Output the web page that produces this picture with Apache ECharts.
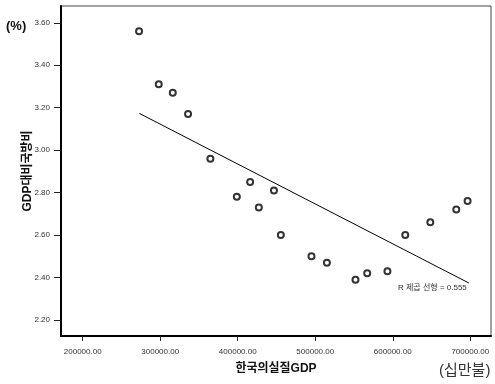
<!DOCTYPE html>
<html>
<head>
<meta charset="utf-8">
<script src="https://cdn.jsdelivr.net/npm/echarts@6/dist/echarts.min.js"></script>
<style>html,body{margin:0;padding:0;background:#fff}#c{width:495px;height:384px}</style>
</head>
<body>
<div id="c"></div>
<script>
// Data
const gdpX = [272700, 298100, 316200, 335900, 364700, 398800, 416000, 427200, 446700, 455600,
              495100, 515000, 551900, 567000, 593100, 616100, 648400, 681900, 696500];
const defenseY = [3.56, 3.31, 3.27, 3.17, 2.96, 2.78, 2.85, 2.73, 2.81, 2.60,
                  2.50, 2.47, 2.39, 2.42, 2.43, 2.60, 2.66, 2.72, 2.76];
const fitX = [273100, 698200];
const fitY = [3.173, 2.374];
const xTicks = [200000, 300000, 400000, 500000, 600000, 700000];
const yTicks = [2.20, 2.40, 2.60, 2.80, 3.00, 3.20, 3.40, 3.60];
const yTitle = 'GDP대비국방비';
const xTitle = '한국의실질GDP';
const unitY = '(%)';
const unitX = '(십만불)';
const fitLabel = 'R 제곱 선형 = 0.555';

const FONT = '"Liberation Sans", Arial, "Noto Sans CJK KR", sans-serif';
const chart = echarts.init(document.getElementById('c'), null, {renderer: 'canvas'});
chart.setOption({
  animation: false,
  backgroundColor: '#fff',
  grid: {left: 61, right: 4, top: 6, bottom: 48, show: true, borderColor: '#444', borderWidth: 1},
  xAxis: {
    type: 'value', min: 172000, max: 726700,
    name: xTitle, nameLocation: 'middle', nameGap: 27, nameMoveOverlap: false,
    nameTextStyle: {fontFamily: FONT, fontSize: 12, fontWeight: 'bold', color: '#111'},
    axisLine: {show: true, onZero: false, lineStyle: {color: '#000', width: 2}},
    axisTick: {show: true, length: 5, customValues: xTicks, lineStyle: {color: '#222'}},
    axisLabel: {customValues: xTicks, margin: 12, fontFamily: FONT, fontSize: 8, color: '#333',
      formatter: v => Number(v).toFixed(2)},
    splitLine: {show: false}
  },
  yAxis: {
    type: 'value', min: 2.1245, max: 3.679,
    name: yTitle, nameLocation: 'middle', nameGap: 27, nameRotate: 90, nameMoveOverlap: false,
    nameTextStyle: {fontFamily: FONT, fontSize: 12, fontWeight: 'bold', color: '#111'},
    axisLine: {show: true, onZero: false, lineStyle: {color: '#000', width: 2}},
    axisTick: {show: true, length: 7, customValues: yTicks, lineStyle: {color: '#222'}},
    axisLabel: {customValues: yTicks, margin: 11, fontFamily: FONT, fontSize: 8, color: '#333',
      formatter: v => Number(v).toFixed(2)},
    splitLine: {show: false}
  },
  series: [
    {
      type: 'scatter',
      data: gdpX.map((x, i) => [x, defenseY[i]]),
      symbol: 'emptyCircle', symbolSize: 6,
      itemStyle: {color: '#000', borderWidth: 1.2}
    },
    {
      type: 'line',
      data: fitX.map((x, i) => [x, fitY[i]]),
      showSymbol: false, symbol: 'none',
      lineStyle: {color: '#000', width: 1}
    }
  ],
  graphic: [
    {type: 'text', left: 6, top: 20, style: {text: unitY, font: 'bold 13px ' + FONT, fill: '#111'}},
    {type: 'text', left: 439, top: 363, style: {text: unitX, font: '15px ' + FONT, fill: '#333'}},
    {type: 'text', left: 398, top: 284, style: {text: fitLabel, font: '8px ' + FONT, fill: '#333'}}
  ]
});
</script>
</body>
</html>
